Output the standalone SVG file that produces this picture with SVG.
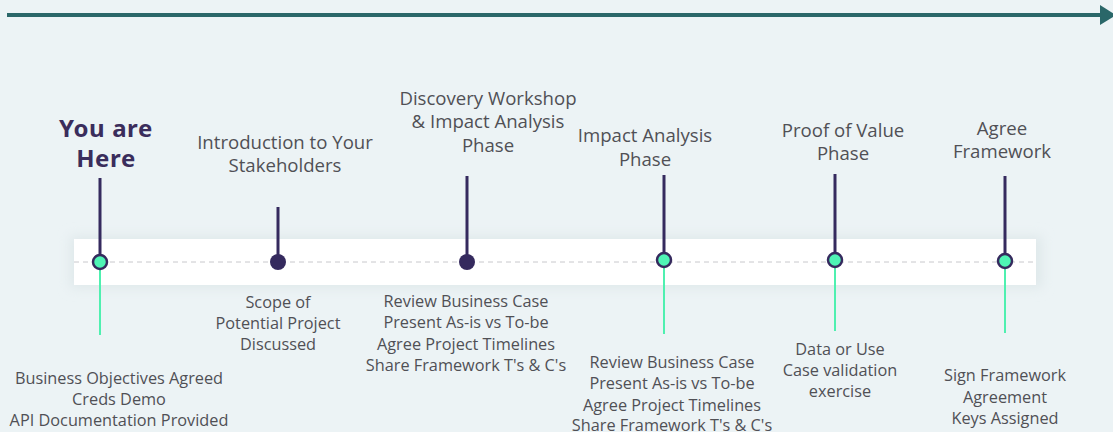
<svg xmlns="http://www.w3.org/2000/svg" width="1113" height="432" viewBox="0 0 1113 432">
<defs>
<style>
.top{font-family:"Open Sans","Liberation Sans",sans-serif;font-size:18.6px;fill:#505055;text-anchor:middle}
.bot{font-family:"Open Sans","Liberation Sans",sans-serif;font-size:16.3px;fill:#505055;text-anchor:middle}
.here{font-family:"Noto Sans","Liberation Sans",sans-serif;font-size:24px;font-weight:bold;fill:#3a2d5c;text-anchor:middle;letter-spacing:0.6px}
.stem{stroke:#352a5e;stroke-width:3}
.gstem{stroke:#4ff0b0;stroke-width:2}
.gdot{fill:#4ff5b5;stroke:#352a5e;stroke-width:2.5}
.ddot{fill:#352a5e}
</style>
<marker id="ah" markerWidth="4" markerHeight="5" refX="0.5" refY="2.5" orient="auto" markerUnits="strokeWidth">
<path d="M0,0 L4,2.5 L0,5 Z" fill="#2a6769"/>
</marker>
<filter id="sh" x="-5%" y="-60%" width="110%" height="220%">
<feGaussianBlur stdDeviation="6"/>
</filter>
</defs>
<rect width="1113" height="432" fill="#ecf3f5"/>
<g id="timeline-arrow">
<line x1="7" y1="15" x2="1102" y2="15" stroke="#2a6769" stroke-width="4" marker-end="url(#ah)"/>
</g>
<g id="band">
<rect x="70" y="236" width="972" height="52" fill="#dfe8ea" filter="url(#sh)"/>
<rect x="74" y="239" width="962" height="46" fill="#ffffff"/>
</g>
<g id="connectors">
<line x1="74" y1="262" x2="1036" y2="262" stroke="#c8c8cc" stroke-width="1" stroke-dasharray="5,4"/>
<line class="stem" x1="100" y1="178" x2="100" y2="262"/>
<line class="gstem" x1="100" y1="262" x2="100" y2="335"/>
<line class="stem" x1="278" y1="207" x2="278" y2="262"/>
<line class="stem" x1="467" y1="176" x2="467" y2="262"/>
<line class="stem" x1="664" y1="175" x2="664" y2="260"/>
<line class="gstem" x1="664" y1="260" x2="664" y2="334"/>
<line class="stem" x1="835" y1="174" x2="835" y2="260"/>
<line class="gstem" x1="835" y1="260" x2="835" y2="331"/>
<line class="stem" x1="1005" y1="176" x2="1005" y2="261"/>
<line class="gstem" x1="1005" y1="261" x2="1005" y2="333"/>
</g>
<g id="node-here">
<circle class="gdot" cx="100" cy="262" r="7"/>
<text class="here" x="106" y="137">You are</text>
<text class="here" x="106" y="167">Here</text>
<text class="bot" x="119" y="384">Business Objectives Agreed</text>
<text class="bot" x="119" y="405">Creds Demo</text>
<text class="bot" x="119" y="426">API Documentation Provided</text>
</g>
<g id="node-intro">
<circle class="ddot" cx="278" cy="262" r="8"/>
<text class="top" x="285" y="149">Introduction to Your</text>
<text class="top" x="285" y="172">Stakeholders</text>
<text class="bot" x="278" y="308">Scope of</text>
<text class="bot" x="278" y="329">Potential Project</text>
<text class="bot" x="278" y="350">Discussed</text>
</g>
<g id="node-discovery">
<circle class="ddot" cx="467" cy="262" r="8"/>
<text class="top" x="488" y="105">Discovery Workshop</text>
<text class="top" x="488" y="128">&amp; Impact Analysis</text>
<text class="top" x="488" y="152">Phase</text>
<text class="bot" x="466" y="307">Review Business Case</text>
<text class="bot" x="466" y="328">Present As-is vs To-be</text>
<text class="bot" x="466" y="350">Agree Project Timelines</text>
<text class="bot" x="466" y="371">Share Framework T's &amp; C's</text>
</g>
<g id="node-impact">
<circle class="gdot" cx="664" cy="260" r="7"/>
<text class="top" x="645" y="142">Impact Analysis</text>
<text class="top" x="645" y="166">Phase</text>
<text class="bot" x="672" y="368">Review Business Case</text>
<text class="bot" x="672" y="389">Present As-is vs To-be</text>
<text class="bot" x="672" y="411">Agree Project Timelines</text>
<text class="bot" x="672" y="431">Share Framework T's &amp; C's</text>
</g>
<g id="node-proof">
<circle class="gdot" cx="835" cy="260" r="7"/>
<text class="top" x="843" y="137">Proof of Value</text>
<text class="top" x="843" y="160">Phase</text>
<text class="bot" x="840" y="355">Data or Use</text>
<text class="bot" x="840" y="376">Case validation</text>
<text class="bot" x="840" y="397">exercise</text>
</g>
<g id="node-agree">
<circle class="gdot" cx="1005" cy="261" r="7"/>
<text class="top" x="1002" y="135">Agree</text>
<text class="top" x="1002" y="158">Framework</text>
<text class="bot" x="1005" y="381">Sign Framework</text>
<text class="bot" x="1005" y="403">Agreement</text>
<text class="bot" x="1005" y="424">Keys Assigned</text>
</g>
</svg>
